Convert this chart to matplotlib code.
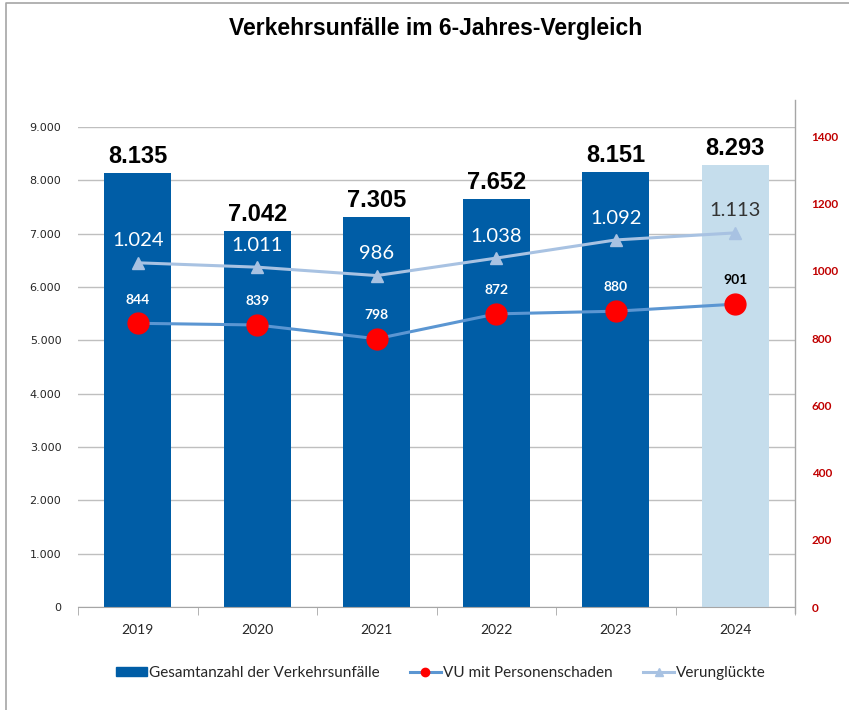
import matplotlib
matplotlib.use("Agg")
import matplotlib.pyplot as plt
from matplotlib.lines import Line2D
from matplotlib.patches import Patch
from matplotlib.ticker import FuncFormatter

years = ["2019", "2020", "2021", "2022", "2023", "2024"]
gesamt = [8135, 7042, 7305, 7652, 8151, 8293]
vu_personen = [844, 839, 798, 872, 880, 901]
verunglueckte = [1024, 1011, 986, 1038, 1092, 1113]

def de(v):
    return f"{v:,}".replace(",", ".")

BAR = "#005DA6"
BAR_LIGHT = "#C5DDEC"
LINE_VU = "#5B96D2"
LINE_VER = "#A8C2E2"

fig = plt.figure(figsize=(8.49, 7.10), dpi=100)
ax = fig.add_axes([78/849, 1-607/710, (795-78)/849, (607-127)/710])
ax2 = ax.twinx()

x = list(range(len(years)))
colors = [BAR]*5 + [BAR_LIGHT]
ax.bar(x, gesamt, width=0.56, color=colors, zorder=2)
ax.set_xlim(-0.5, 5.5)
ax.set_ylim(0, 9000)
ax.set_yticks(range(0, 9001, 1000))
ax.yaxis.set_major_formatter(FuncFormatter(lambda v, p: de(int(v))))
ax.grid(axis="y", color="#BFBFBF", linewidth=1.0, zorder=0)
ax.set_axisbelow(True)
for s in ["top", "left", "right"]:
    ax.spines[s].set_visible(False)
ax.spines["bottom"].set_color("#A6A6A6")
ax.tick_params(axis="y", length=0, labelsize=8, labelcolor="#262626", pad=12)
ax.set_xticks(x)
ax.set_xticklabels(years, fontsize=10, family="Lato", color="#262626")
ax.set_xticks([i + 0.5 for i in range(-1, 6)], minor=True)
ax.tick_params(axis="x", which="major", length=0, pad=12)
ax.tick_params(axis="x", which="minor", length=6, color="#A6A6A6")
for lab in ax.get_yticklabels():
    lab.set_family("DejaVu Sans")

for xi, v in zip(x, gesamt):
    ax.annotate(de(v), (xi, v), xytext=(0, 7.2), textcoords="offset points",
                ha="center", va="baseline", fontsize=17, fontweight="bold",
                family="Liberation Sans", color="black")

ax2.set_ylim(0, 1428)
ax2.set_yticks(range(0, 1401, 200))
ax2.plot(x, verunglueckte, color=LINE_VER, linewidth=2.2, marker="^",
         markersize=8, markerfacecolor=LINE_VER, markeredgecolor=LINE_VER, zorder=3)
ax2.plot(x, vu_personen, color=LINE_VU, linewidth=2.2, zorder=4)
ax2.plot(x, vu_personen, linestyle="none", marker="o", markersize=15,
         markerfacecolor="#FF0000", markeredgecolor="#FF0000", zorder=5)
for s in ["top", "left", "bottom", "right"]:
    ax2.spines[s].set_visible(False)
ax2.tick_params(axis="y", length=0, labelsize=8.5, labelcolor="#C00000", pad=12)
for lab in ax2.get_yticklabels():
    lab.set_family("Lato")
    lab.set_fontweight("bold")

for i, (xi, v) in enumerate(zip(x, verunglueckte)):
    c = "white" if i < 5 else "#333333"
    ax2.annotate(de(v), (xi, v), xytext=(0, 11.8), textcoords="offset points",
                 ha="center", va="baseline", fontsize=14.5, family="Lato", color=c, zorder=6)
for i, (xi, v) in enumerate(zip(x, vu_personen)):
    c = "white" if i < 5 else "black"
    ax2.annotate(de(v), (xi, v), xytext=(0, 14.2), textcoords="offset points",
                 ha="center", va="baseline", fontsize=10, family="Lato",
                 fontweight="bold", color=c, zorder=6)

# right axis line and chart frame
fig.add_artist(Line2D([795/849, 795/849], [1-100/710, 1-613/710], color="#A6A6A6", linewidth=1))
fig.add_artist(Line2D([6/849, 6/849, 1.0], [0, 1-3/710, 1-3/710], color="#A6A6A6", linewidth=1.2))

handles = [
    Patch(facecolor=BAR, edgecolor=BAR),
    Line2D([0], [0], color=LINE_VU, linewidth=2.2, marker="o", markersize=6,
           markerfacecolor="#FF0000", markeredgecolor="#FF0000"),
    Line2D([0], [0], color=LINE_VER, linewidth=2.2, marker="^", markersize=6,
           markerfacecolor=LINE_VER, markeredgecolor=LINE_VER),
]
labels = ["Gesamtanzahl der Verkehrsunfälle", "VU mit Personenschaden", "Verunglückte"]
fig.legend(handles, labels, loc="center", bbox_to_anchor=(441/849, 1-673/710), ncol=3,
           frameon=False, prop={"family": "Lato", "size": 11}, handlelength=2.0,
           handleheight=0.55, handletextpad=0.15, columnspacing=2.0, labelcolor="#262626")

fig.text(436/849, 1-29/710, "Verkehrsunfälle im 6-Jahres-Vergleich", ha="center", va="center",
         fontsize=16.5, fontweight="bold", family="Liberation Sans", color="black")

fig.savefig("out.png", dpi=100)
